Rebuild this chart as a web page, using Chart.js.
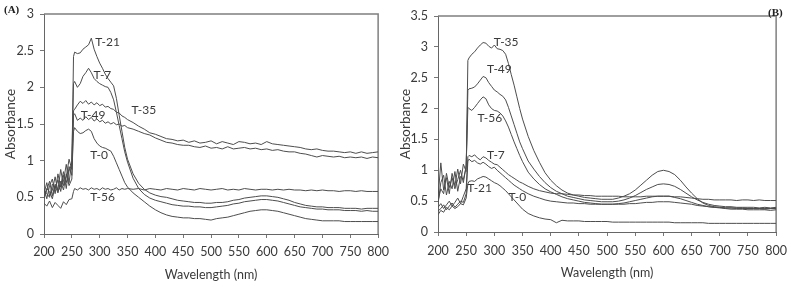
<!DOCTYPE html>
<html><head><meta charset="utf-8">
<script src="https://cdn.jsdelivr.net/npm/chart.js@4/dist/chart.umd.min.js"></script>
<style>
html,body{margin:0;padding:0;background:#fff;}
#wrap{position:relative;width:794px;height:287px;overflow:hidden;background:#fff;}
canvas{position:absolute;top:0;}
.tag{position:absolute;font:bold 11px 'Liberation Serif','DejaVu Serif',serif;color:#222;}
</style></head><body>
<div id="wrap">
<canvas id="ca" width="395" height="287" style="left:0"></canvas>
<canvas id="cb" width="399" height="287" style="left:395px"></canvas>
<div class="tag" style="left:4px;top:3px">(A)</div>
<div class="tag" style="left:768px;top:6px">(B)</div>
</div>
<script>
// wavelength grid (nm)
const wavelengths = [200,205,210,215,220,225,230,235,240,245,250,253,
 255,260,265,270,275,280,285,290,295,300,305,310,315,320,325,330,335,340,345,350,
 360,370,380,390,400,410,420,430,440,450,460,470,480,490,500,510,520,530,540,550,
 560,570,580,590,600,610,620,630,640,650,660,670,680,690,700,710,720,730,740,750,
 760,770,780,790,800];
const xTicks = [200,250,300,350,400,450,500,550,600,650,700,750,800];

// Panel (A)
const seriesNamesA = ['T-0','T-7','T-21','T-35','T-49','T-56'];
const aT0 = [0.55,0.70,0.52,0.60,0.78,0.58,0.66,0.85,0.62,0.92,0.80,1.40,
 1.45,1.40,1.37,1.38,1.41,1.43,1.40,1.30,1.24,1.20,1.18,1.17,1.15,1.13,1.06,0.97,0.88,0.79,0.70,0.64,
 0.56,0.50,0.44,0.38,0.33,0.29,0.26,0.24,0.23,0.22,0.22,0.21,0.21,0.20,0.19,0.21,0.22,0.23,0.25,0.27,
 0.29,0.31,0.32,0.33,0.33,0.32,0.31,0.29,0.27,0.25,0.23,0.21,0.20,0.19,0.18,0.18,0.18,0.18,0.17,0.17,
 0.17,0.17,0.17,0.17,0.17];
const aT7 = [0.62,0.48,0.66,0.75,0.55,0.82,0.64,0.72,0.95,0.70,1.00,2.05,
 2.08,2.00,2.05,2.15,2.20,2.26,2.20,2.12,2.08,2.05,2.03,2.01,2.00,1.93,1.83,1.66,1.48,1.30,1.12,0.98,
 0.76,0.62,0.54,0.49,0.46,0.44,0.42,0.40,0.39,0.38,0.38,0.37,0.37,0.36,0.36,0.37,0.38,0.39,0.41,0.42,
 0.44,0.45,0.46,0.47,0.47,0.46,0.45,0.43,0.41,0.39,0.37,0.36,0.35,0.34,0.34,0.33,0.33,0.33,0.32,0.32,
 0.32,0.31,0.32,0.31,0.31];
const aT21 = [0.48,0.60,0.72,0.52,0.68,0.60,0.88,0.66,0.78,1.02,0.88,2.42,
 2.48,2.46,2.47,2.52,2.55,2.58,2.67,2.52,2.42,2.33,2.26,2.18,2.12,2.07,2.02,1.85,1.62,1.40,1.18,1.02,
 0.82,0.69,0.61,0.56,0.53,0.51,0.50,0.48,0.46,0.45,0.44,0.43,0.43,0.42,0.42,0.43,0.43,0.44,0.46,0.47,
 0.49,0.50,0.51,0.52,0.52,0.51,0.50,0.48,0.46,0.43,0.41,0.39,0.38,0.37,0.37,0.36,0.36,0.36,0.35,0.35,
 0.35,0.34,0.35,0.35,0.35];
const aT35 = [0.60,0.55,0.50,0.68,0.62,0.74,0.58,0.80,0.70,0.86,0.95,1.68,
 1.70,1.76,1.81,1.78,1.82,1.77,1.80,1.76,1.79,1.75,1.77,1.73,1.74,1.71,1.70,1.66,1.65,1.61,1.59,1.56,
 1.52,1.47,1.43,1.38,1.36,1.33,1.30,1.29,1.27,1.28,1.25,1.27,1.24,1.25,1.27,1.23,1.26,1.24,1.22,1.26,
 1.25,1.23,1.24,1.22,1.26,1.23,1.22,1.21,1.20,1.19,1.18,1.16,1.15,1.16,1.14,1.13,1.13,1.12,1.11,1.12,
 1.10,1.12,1.10,1.11,1.12];
const aT49 = [0.50,0.62,0.58,0.48,0.66,0.56,0.72,0.60,0.82,0.66,0.75,1.62,
 1.64,1.55,1.58,1.55,1.60,1.56,1.59,1.54,1.57,1.53,1.55,1.51,1.53,1.50,1.52,1.49,1.50,1.47,1.48,1.45,
 1.43,1.40,1.37,1.35,1.31,1.28,1.25,1.24,1.22,1.21,1.21,1.19,1.18,1.20,1.17,1.18,1.16,1.19,1.16,1.17,
 1.18,1.16,1.17,1.15,1.16,1.14,1.15,1.13,1.12,1.12,1.10,1.09,1.07,1.05,1.07,1.06,1.05,1.06,1.04,1.05,
 1.04,1.05,1.03,1.05,1.04];
const aT56 = [0.42,0.38,0.45,0.36,0.43,0.39,0.35,0.44,0.40,0.47,0.48,0.58,
 0.62,0.60,0.63,0.61,0.62,0.60,0.63,0.61,0.62,0.60,0.63,0.61,0.62,0.60,0.61,0.63,0.60,0.62,0.61,0.62,
 0.61,0.62,0.60,0.62,0.61,0.60,0.62,0.61,0.60,0.62,0.61,0.60,0.62,0.61,0.60,0.61,0.62,0.60,0.61,0.60,
 0.62,0.61,0.60,0.61,0.61,0.60,0.61,0.60,0.61,0.60,0.60,0.59,0.60,0.59,0.60,0.59,0.59,0.58,0.59,0.59,
 0.58,0.59,0.58,0.58,0.58];
const yTicksA = [0,0.5,1,1.5,2,2.5,3];
const labelTextA = ['T-21','T-7','T-35','T-49','T-0','T-56'];
const labelNmA   = [292,289,357,266,283,283];
const labelAbsA  = [2.62,2.17,1.69,1.62,1.08,0.50];

// Panel (B)
const seriesNamesB = ['T-0','T-7','T-21','T-35','T-49','T-56'];
const bT0 = [0.28,0.35,0.32,0.40,0.36,0.42,0.38,0.41,0.46,0.44,0.55,0.78,
 0.82,0.83,0.82,0.86,0.88,0.90,0.89,0.86,0.83,0.80,0.78,0.75,0.71,0.67,0.62,0.57,0.52,0.47,0.42,0.37,
 0.30,0.26,0.23,0.21,0.20,0.15,0.19,0.18,0.18,0.18,0.17,0.17,0.17,0.17,0.17,0.16,0.16,0.16,0.16,0.16,
 0.16,0.16,0.16,0.16,0.16,0.16,0.15,0.15,0.15,0.15,0.15,0.15,0.14,0.14,0.14,0.14,0.14,0.14,0.14,0.14,
 0.14,0.14,0.14,0.14,0.14];
const bT7 = [0.40,0.46,0.38,0.44,0.50,0.42,0.48,0.55,0.46,0.58,0.70,1.22,
 1.24,1.22,1.25,1.20,1.17,1.22,1.20,1.16,1.13,1.10,1.09,1.05,1.01,0.97,0.93,0.90,0.87,0.84,0.81,0.79,
 0.74,0.70,0.67,0.65,0.63,0.62,0.62,0.61,0.60,0.60,0.59,0.59,0.58,0.58,0.58,0.58,0.58,0.57,0.57,0.57,
 0.57,0.58,0.58,0.58,0.58,0.58,0.57,0.57,0.56,0.55,0.54,0.53,0.53,0.52,0.52,0.52,0.52,0.51,0.52,0.52,
 0.51,0.52,0.51,0.51,0.51];
const bT21 = [0.34,0.38,0.44,0.36,0.42,0.47,0.40,0.45,0.50,0.48,0.62,1.15,
 1.18,1.14,1.16,1.12,1.10,1.13,1.10,1.06,1.03,1.05,1.00,0.96,0.92,0.88,0.84,0.80,0.76,0.73,0.70,0.67,
 0.62,0.58,0.55,0.52,0.50,0.49,0.48,0.47,0.47,0.46,0.46,0.45,0.45,0.45,0.45,0.45,0.45,0.45,0.46,0.46,
 0.47,0.48,0.48,0.49,0.49,0.49,0.48,0.47,0.46,0.45,0.43,0.42,0.41,0.40,0.40,0.39,0.39,0.39,0.39,0.38,
 0.38,0.38,0.38,0.38,0.38];
const bT35 = [0.55,1.12,0.68,0.88,0.62,0.95,0.75,1.02,0.78,1.10,0.98,2.78,
 2.82,2.88,2.92,2.98,3.03,3.07,3.06,3.01,2.98,3.03,2.97,2.96,2.94,2.88,2.73,2.55,2.38,2.19,2.00,1.83,
 1.55,1.32,1.13,0.96,0.84,0.75,0.68,0.63,0.60,0.58,0.56,0.55,0.54,0.53,0.53,0.53,0.55,0.58,0.62,0.68,
 0.76,0.84,0.92,0.98,1.00,0.98,0.93,0.84,0.73,0.63,0.54,0.47,0.43,0.41,0.40,0.39,0.39,0.38,0.38,0.38,
 0.38,0.38,0.37,0.38,0.38];
const bT49 = [0.45,0.80,0.92,0.60,0.82,0.70,0.98,0.66,0.90,0.85,1.05,2.30,
 2.32,2.33,2.35,2.40,2.46,2.52,2.50,2.42,2.36,2.30,2.27,2.23,2.20,2.14,2.02,1.88,1.74,1.60,1.46,1.35,
 1.15,1.02,0.90,0.80,0.72,0.66,0.62,0.58,0.56,0.54,0.52,0.51,0.50,0.49,0.49,0.49,0.50,0.52,0.55,0.59,
 0.64,0.69,0.73,0.77,0.78,0.77,0.74,0.69,0.63,0.57,0.52,0.48,0.45,0.43,0.42,0.41,0.41,0.40,0.40,0.40,
 0.40,0.39,0.40,0.39,0.40];
const bT56 = [0.50,0.70,0.62,0.95,0.72,0.88,0.70,0.85,1.00,0.80,1.08,2.02,
 2.00,1.97,2.02,2.08,2.14,2.19,2.16,2.06,2.00,1.97,1.96,1.93,1.88,1.80,1.70,1.58,1.46,1.35,1.24,1.14,
 0.97,0.86,0.77,0.70,0.65,0.61,0.57,0.54,0.52,0.50,0.48,0.47,0.46,0.45,0.45,0.45,0.46,0.47,0.49,0.51,
 0.53,0.55,0.57,0.58,0.58,0.58,0.56,0.54,0.51,0.48,0.45,0.43,0.41,0.40,0.39,0.38,0.37,0.37,0.37,0.36,
 0.36,0.36,0.36,0.35,0.36];
const yTicksB = [0,0.5,1,1.5,2,2.5,3,3.5];
const labelTextB = ['T-35','T-49','T-56','T-7','T-21','T-0'];
const labelNmB   = [299,287,270,287,252,325];
const labelAbsB  = [3.07,2.64,1.84,1.24,0.71,0.57];

const FONT = 'Lato, "Open Sans", sans-serif';
const TXT = '#3a3a3a';

const labelPlugin = {
  id: 'curveLabels',
  afterDatasetsDraw(chart, args, opts) {
    const {ctx, scales} = chart;
    ctx.save();
    ctx.font = '12px ' + FONT;
    ctx.fillStyle = TXT;
    ctx.textAlign = 'left';
    ctx.textBaseline = 'middle';
    opts.text.forEach((t, i) => {
      ctx.fillText(t, scales.x.getPixelForValue(opts.nm[i]), scales.y.getPixelForValue(opts.abs[i]));
    });
    ctx.restore();
  }
};

function makeChart(id, names, series, yTicks, labels, geom) {
  const xmin = xTicks[0], xmax = xTicks[xTicks.length - 1];
  const ymin = yTicks[0], ymax = yTicks[yTicks.length - 1];
  const datasets = names.map((n, i) => ({
    label: n,
    data: wavelengths.map((w, j) => ({x: w, y: series[i][j]})),
    borderColor: '#4d4d4d', borderWidth: 1, pointRadius: 0, tension: 0, fill: false
  }));
  // plot-area frame (top and right edges) drawn through the scales
  datasets.push({
    label: 'frame',
    data: [{x: xmin, y: ymax}, {x: xmax, y: ymax}, {x: xmax, y: ymin}],
    borderColor: '#7f7f7f', borderWidth: 1.5, pointRadius: 0, tension: 0, fill: false, clip: 4
  });
  return new Chart(document.getElementById(id), {
    type: 'line',
    data: {datasets},
    plugins: [labelPlugin],
    options: {
      responsive: false, animation: false,
      layout: {padding: {left: 0, right: geom.right, top: geom.top, bottom: 0}},
      plugins: {legend: {display: false}, tooltip: {enabled: false},
        curveLabels: labels},
      scales: {
        x: {type: 'linear', position: 'bottom', min: xmin, max: xmax,
          afterBuildTicks: s => { s.ticks = xTicks.map(v => ({value: v})); },
          afterFit: s => { s.height = geom.xh; },
          ticks: {font: {family: FONT, size: 12.5}, color: TXT, padding: geom.xpad, maxRotation: 0, autoSkip: false,
            callback: v => String(v)},
          grid: {drawOnChartArea: false, drawTicks: true, tickLength: 4, color: '#777'},
          border: {color: '#666', width: 1},
          title: {display: true, text: 'Wavelength (nm)', font: {family: FONT, size: 12.5}, color: TXT, padding: {top: 0, bottom: geom.xtp}}
        },
        y: {position: 'left', min: ymin, max: ymax,
          afterBuildTicks: s => { s.ticks = yTicks.map(v => ({value: v})); },
          afterFit: s => { s.width = geom.yw; },
          ticks: {font: {family: FONT, size: 12.5}, color: TXT, padding: 6, callback: v => String(v)},
          grid: {drawOnChartArea: false, drawTicks: true, tickLength: 4, color: '#777'},
          border: {color: '#666', width: 1},
          title: {display: true, text: 'Absorbance', font: {family: FONT, size: 13.5}, color: TXT, padding: {top: geom.ytp, bottom: 0}}
        }
      }
    }
  });
}

makeChart('ca', seriesNamesA, [aT0, aT7, aT21, aT35, aT49, aT56], yTicksA,
  {text: labelTextA, nm: labelNmA, abs: labelAbsA},
  {right: 10, top: 14, xh: 53, yw: 44, xpad: 6, xtp: 5, ytp: 3});
makeChart('cb', seriesNamesB, [bT0, bT7, bT21, bT35, bT49, bT56], yTicksB,
  {text: labelTextB, nm: labelNmB, abs: labelAbsB},
  {right: 12, top: 16, xh: 55, yw: 43, xpad: 7, xtp: 7, ytp: 3});
</script>
</body></html>
